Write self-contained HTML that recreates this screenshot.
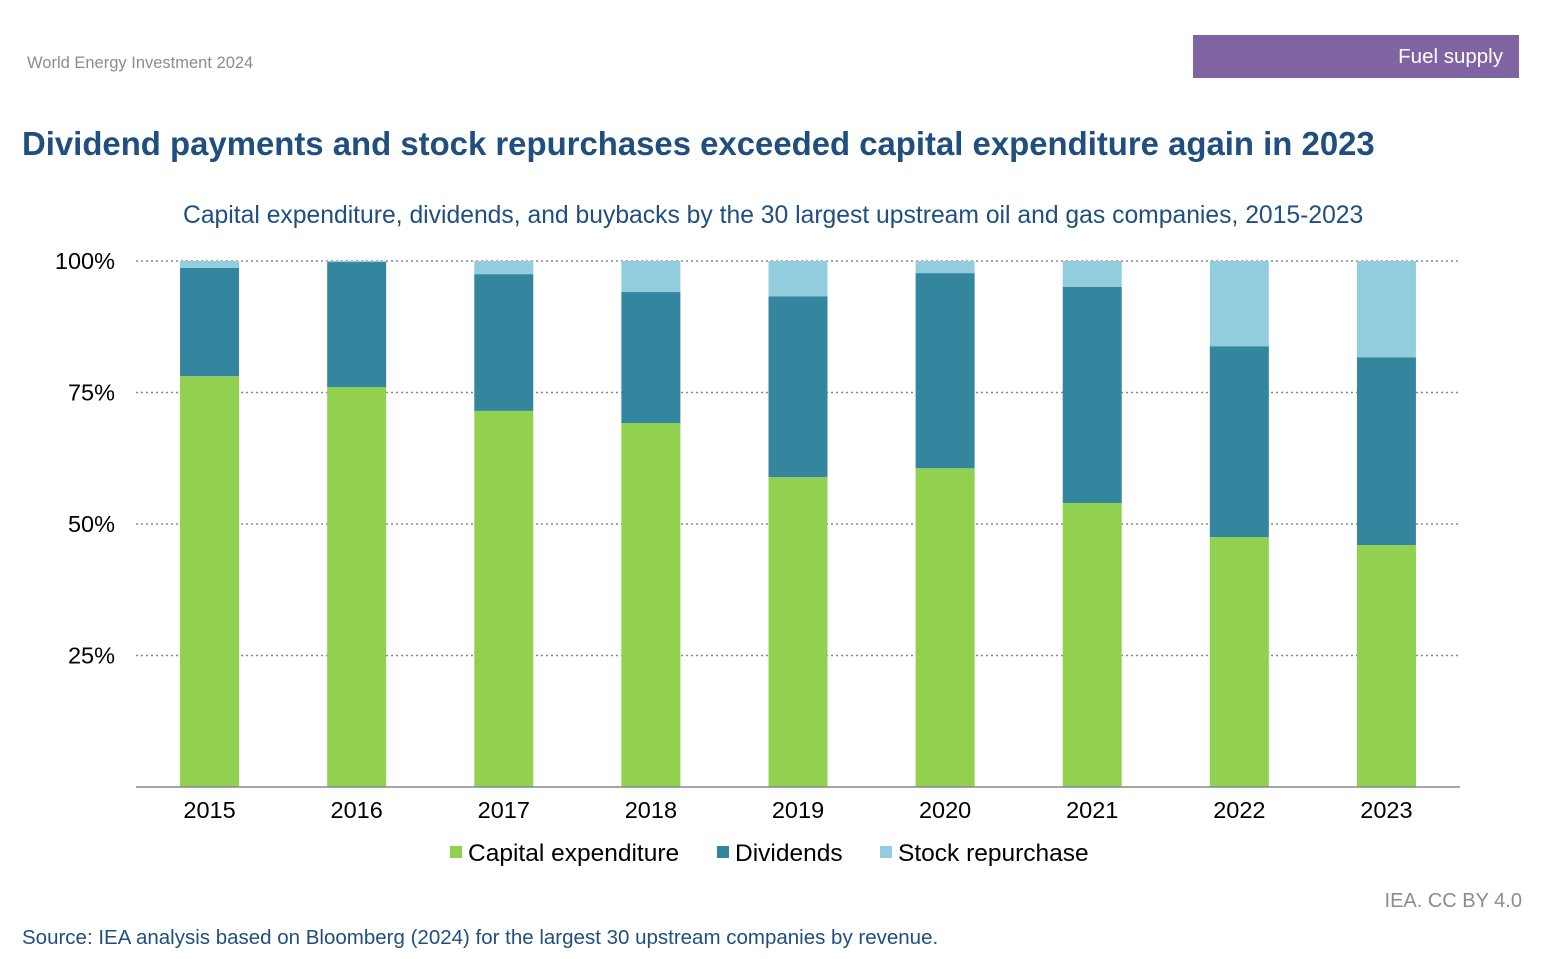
<!DOCTYPE html>
<html><head><meta charset="utf-8"><style>
body{margin:0;width:1559px;height:959px;background:#fff;font-family:"Liberation Sans",Arial,sans-serif;position:relative;overflow:hidden}
.abs{position:absolute;white-space:nowrap}
</style></head><body>
<div class="abs" style="left:27px;top:54px;font-size:16.5px;color:#8c8c8c">World Energy Investment 2024</div>
<div class="abs" style="left:1193px;top:35px;width:326px;height:43px;background:#8064a2;color:#fff;font-size:20.5px;line-height:43px;text-align:right;box-sizing:border-box;padding-right:16px">Fuel supply</div>
<div class="abs" style="left:22px;top:125px;font-size:32.9px;font-weight:bold;color:#1f4e7f">Dividend payments and stock repurchases exceeded capital expenditure again in 2023</div>
<div class="abs" style="left:183px;top:202px;font-size:24.7px;color:#1f4e7f">Capital expenditure, dividends, and buybacks by the 30 largest upstream oil and gas companies, 2015-2023</div>
<svg id="chart" width="1559" height="959" style="position:absolute;left:0;top:0"></svg>
<div class="abs" style="right:37px;top:890px;font-size:20px;color:#8c8c8c">IEA. CC BY 4.0</div>
<div class="abs" style="left:22px;top:926px;font-size:20.5px;color:#1f4e7f">Source: IEA analysis based on Bloomberg (2024) for the largest 30 upstream companies by revenue.</div>
<script>
const years=["2015","2016","2017","2018","2019","2020","2021","2022","2023"];
const capex=[78.1,76.0,71.5,69.2,58.9,60.6,54.0,47.5,46.0];
const dividends=[20.6,23.8,26.0,24.9,34.4,37.1,41.1,36.3,35.7];
const buybacks=[1.3,0.2,2.5,5.9,6.7,2.3,4.9,16.2,18.3];
const yTicks=[25,50,75,100];
const tickLabels=["25%","50%","75%","100%"];
const NS="http://www.w3.org/2000/svg";
const svg=document.getElementById('chart');
const x0=136,x1=1460,yTop=261,yBot=787;
const step=(x1-x0)/years.length,bw=59;
const y=v=>yBot-(v/100)*(yBot-yTop);
const xc=i=>x0+step*(i+0.5);
function mk(t,a){const e=document.createElementNS(NS,t);for(const k in a)e.setAttribute(k,a[k]);svg.appendChild(e);return e;}
yTicks.forEach((v,i)=>{
 const g=mk('line',{x1:x0,x2:x1,y1:y(v),y2:y(v),stroke:'#888','stroke-width':1.5,'stroke-dasharray':'2,3'});
 
 
 const t=mk('text',{x:115,y:y(v)+8,'text-anchor':'end','font-size':23.5,fill:'#000'});
 t.textContent=tickLabels[i];
 
 
});
const series=[["capex",capex,"#92d050"],["dividends",dividends,"#33869e"],["buybacks",buybacks,"#92cddd"]];
years.forEach((yr,i)=>{
 let base=0;
 series.forEach(s=>{
  const v=s[1][i];
  const r=mk('rect',{x:xc(i)-bw/2,y:y(base+v),width:bw,height:y(base)-y(base+v),fill:s[2]});
  
  
  base+=v;
 });
 const t=mk('text',{x:xc(i),y:818,'text-anchor':'middle','font-size':23.5,fill:'#000'});
 t.textContent=yr;
 
 
});
const ax=mk('line',{x1:x0,x2:x1,y1:yBot,y2:yBot,stroke:'#888','stroke-width':1.5});


const legend=[["Capital expenditure","#92d050",450],["Dividends","#33869e",717],["Stock repurchase","#92cddd",880]];
legend.forEach(l=>{
 const r=mk('rect',{x:l[2],y:846,width:12,height:12,fill:l[1]});
 
 
 const t=mk('text',{x:l[2]+18,y:861,'font-size':24.5,fill:'#000'});
 t.textContent=l[0];
 
 
});
</script>
</body></html>
